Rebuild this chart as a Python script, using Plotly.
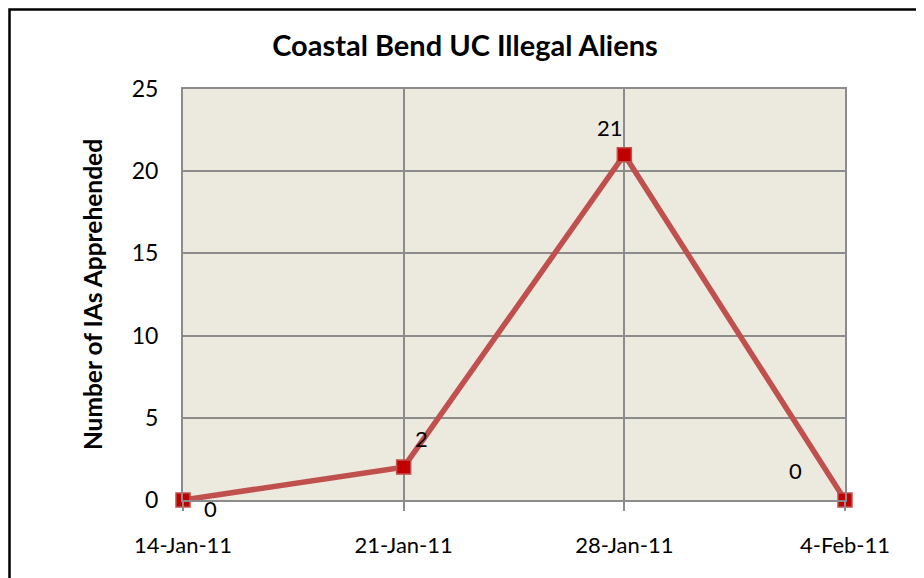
import plotly.graph_objects as go

weeks = ["2011-01-14", "2011-01-21", "2011-01-28", "2011-02-04"]
week_labels = ["14-Jan-11", "21-Jan-11", "28-Jan-11", "4-Feb-11"]
apprehended = [0, 2, 21, 0]
y_ticks = [0, 5, 10, 15, 20, 25]

# label placement per point (pixel offsets)
label_dx = [27, 18, -14, -50]
label_dy = [-8, 29, 27, 30]

# page body adds an 8px margin, so the figure is a bit smaller than the window
W, H = 916, 570
L, T = 175, 81
pw, ph = 662, 411
R, B = W - L - pw, H - T - ph

fig = go.Figure()

fig.add_trace(go.Scatter(
    x=weeks,
    y=apprehended,
    mode='lines+markers',
    line=dict(color='#C0504D', width=5.5),
    marker=dict(symbol='square', size=14, color='#C00000',
                line=dict(color='#C0504D', width=1.5)),
    cliponaxis=False,
    hovertemplate='%{x|%d-%b-%y}: %{y}<extra></extra>',
    showlegend=False
))

for x, y, dx, dy in zip(weeks, apprehended, label_dx, label_dy):
    fig.add_annotation(x=x, y=y, text=str(y), showarrow=False,
                       xshift=dx, yshift=dy,
                       font=dict(size=22, color='black'))

def px(x):
    return (x - L) / pw

def py(y):
    return (T + ph - y) / ph

fig.add_shape(type='rect', xref='paper', yref='paper',
              x0=px(1.5), x1=px(911), y0=py(600), y1=py(1.5),
              line=dict(color='black', width=2.5), fillcolor='rgba(0,0,0,0)')

fig.update_layout(
    width=W, height=H,
    margin=dict(l=L, r=R, t=T, b=B),
    paper_bgcolor='white',
    plot_bgcolor='#ECE9DF',
    font=dict(family='Lato, Open Sans, sans-serif', color='black', size=22),
    title=dict(text='<b>Coastal Bend UC Illegal Aliens</b>',
               x=457 / W, xanchor='center', y=1 - 38 / H, yanchor='middle',
               font=dict(size=29)),
    xaxis=dict(
        type='date',
        range=[weeks[0], weeks[-1]],
        tickvals=weeks, ticktext=week_labels,
        showgrid=True, gridcolor='#8C8C8C', gridwidth=1.5,
        showline=True, linecolor='#8C8C8C', linewidth=2,
        ticks='outside', ticklen=9, tickcolor='#8C8C8C', tickwidth=1.5,
        ticklabelstandoff=16,
        tickfont=dict(size=22),
        zeroline=False, mirror=True,
    ),
    yaxis=dict(
        range=[0, 25],
        tickvals=y_ticks,
        showgrid=True, gridcolor='#8C8C8C', gridwidth=1.5,
        showline=True, linecolor='#8C8C8C', linewidth=2,
        ticks='', ticklabelstandoff=18,
        tickfont=dict(size=23),
        zeroline=False, mirror=True,
        title=dict(text='<b>Number of IAs Apprehended</b>',
                   font=dict(size=24.5), standoff=22),
    ),
)

fig.write_html("out.html")
